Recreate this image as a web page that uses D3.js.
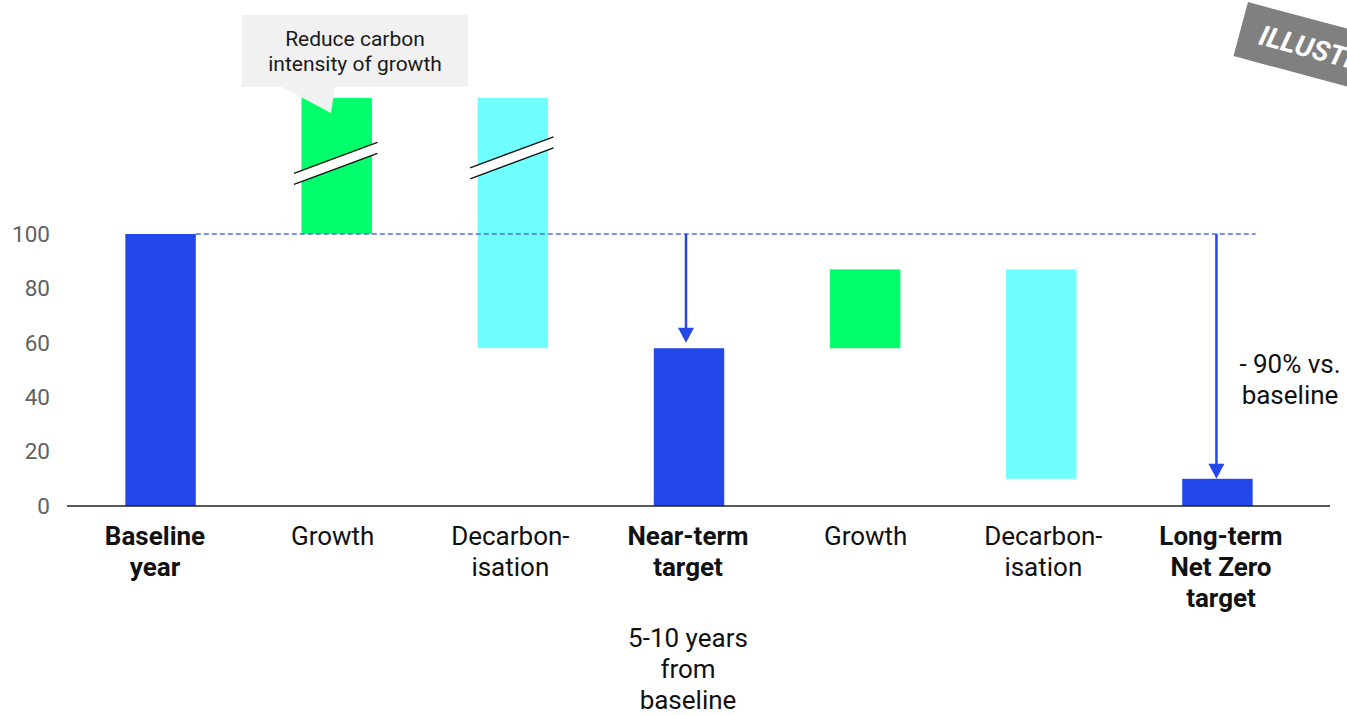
<!DOCTYPE html>
<html>
<head>
<meta charset="utf-8">
<script src="https://cdn.jsdelivr.net/npm/d3@7"></script>
<style>
  html, body { margin: 0; padding: 0; background: #ffffff; }
  svg { display: block; font-family: Roboto, "Noto Sans", sans-serif; }
</style>
</head>
<body>
<svg id="chart" width="1347" height="715"></svg>
<script>
// Emissions pathway: baseline -> near-term target -> long-term Net Zero target
const categories = ["Baseline year", "Growth", "Decarbonisation", "Near-term target",
                    "Growth", "Decarbonisation", "Long-term Net Zero target"];
const categoryLines = [["Baseline", "year"], ["Growth"], ["Decarbon-", "isation"],
                       ["Near-term", "target"], ["Growth"], ["Decarbon-", "isation"],
                       ["Long-term", "Net Zero", "target"]];
const barStart = [0, 100, 58, 0, 58, 10, 0];
const barEnd   = [100, 150, 150, 58, 87, 87, 10];
const barKind  = ["total", "increase", "decrease", "total", "increase", "decrease", "total"];
const yTicks   = [0, 20, 40, 60, 80, 100];
const baselineValue = 100;
const nearTermArrowEnd = 60;
const longTermValue = 10;
const brokenBars = [1, 2];

const svg = d3.select("#chart");

const x = d3.scaleBand()
  .domain(d3.range(categories.length))
  .range([72.5, 1305.5])
  .paddingInner(0.6)
  .paddingOuter(0.3);

// category text sits on its own, slightly wider grid
const xLabel = d3.scalePoint()
  .domain(d3.range(categories.length))
  .range([155, 1221]);

const y = d3.scaleLinear().domain([0, 150]).range([506, 98]);

const colour = { total: "#2347EB", increase: "#00FF6A", decrease: "#70FFFF" };
const blue = "#2347EB";

// y axis labels (no domain line, no tick marks)
const yAxis = svg.append("g")
  .attr("transform", "translate(67,0)")
  .call(d3.axisLeft(y).tickValues(yTicks).tickSize(0).tickPadding(17));
yAxis.select(".domain").remove();
yAxis.selectAll("text")
  .attr("font-family", "Roboto, sans-serif")
  .attr("font-size", "22.5px")
  .attr("fill", "#616161");

// bars
svg.append("g").selectAll("rect")
  .data(categories.map((c, i) => i))
  .join("rect")
  .attr("x", i => x(i))
  .attr("width", x.bandwidth())
  .attr("y", i => y(Math.max(barStart[i], barEnd[i])))
  .attr("height", i => Math.abs(y(barStart[i]) - y(barEnd[i])))
  .attr("fill", i => colour[barKind[i]]);

// axis break marks on the tall bars
const breakMid = { 1: 126, 2: 128 };
brokenBars.forEach(i => {
  const x0 = x(i) - 7.5, x1 = x(i) + x.bandwidth() + 5.5;
  const yc = y(breakMid[i]);
  const rise = 15.5, gap = 5.5;
  const g = svg.append("g");
  g.append("polygon")
    .attr("points", [[x0, yc + rise - gap], [x1, yc - rise - gap], [x1, yc - rise + gap], [x0, yc + rise + gap]].join(" "))
    .attr("fill", "#ffffff");
  [-gap, gap].forEach(o => {
    g.append("line")
      .attr("x1", x0).attr("y1", yc + rise + o)
      .attr("x2", x1).attr("y2", yc - rise + o)
      .attr("stroke", "#111").attr("stroke-width", 1.3);
  });
});

// baseline reference line
svg.append("line")
  .attr("x1", x(0) + x.bandwidth()).attr("x2", x(6) + x.bandwidth() + 3)
  .attr("y1", y(baselineValue)).attr("y2", y(baselineValue))
  .attr("stroke", "#4D6EF0").attr("stroke-width", 1.5)
  .attr("stroke-dasharray", "5,3");

// x axis line
svg.append("line")
  .attr("x1", 67).attr("x2", 1330)
  .attr("y1", y(0)).attr("y2", y(0))
  .attr("stroke", "#222").attr("stroke-width", 1.6);

// reduction arrows
function arrow(cx, fromV, toV) {
  const tipY = y(toV);
  svg.append("line")
    .attr("x1", cx).attr("x2", cx)
    .attr("y1", y(fromV)).attr("y2", tipY - 10)
    .attr("stroke", blue).attr("stroke-width", 2.5);
  svg.append("polygon")
    .attr("points", [[cx - 8, tipY - 15], [cx + 8, tipY - 15], [cx, tipY]].join(" "))
    .attr("fill", blue);
}
arrow(x(3) + x.bandwidth() / 2 - 3, baselineValue, nearTermArrowEnd);
arrow(x(6) + x.bandwidth() / 2 - 1, baselineValue, longTermValue);

// category labels
const labels = svg.append("g")
  .attr("font-family", "Roboto, sans-serif")
  .attr("font-size", "26px")
  .attr("fill", "#111")
  .attr("text-anchor", "middle");
categoryLines.forEach((lines, i) => {
  const t = labels.append("text")
    .attr("font-weight", barKind[i] === "total" ? 700 : 400);
  lines.forEach((ln, k) => {
    t.append("tspan")
      .attr("x", xLabel(i))
      .attr("y", 545 + k * 31.2)
      .text(ln);
  });
});

// time horizon note under the near-term target
const note = labels.append("text");
["5-10 years", "from", "baseline"].forEach((ln, k) => {
  note.append("tspan")
    .attr("x", xLabel(3))
    .attr("y", 646.5 + k * 31)
    .text(ln);
});

// reduction annotation
const red = svg.append("text")
  .attr("font-family", "Roboto, sans-serif")
  .attr("font-size", "26px")
  .attr("fill", "#111")
  .attr("text-anchor", "middle");
["- 90% vs.", "baseline"].forEach((ln, k) => {
  red.append("tspan").attr("x", 1290).attr("y", 373 + k * 31).text(ln);
});

// callout bubble
const callout = svg.append("g");
callout.append("rect")
  .attr("x", 242).attr("y", 15).attr("width", 226).attr("height", 72)
  .attr("fill", "#F1F1F1");
callout.append("polygon")
  .attr("points", "280,86 335,86 331,113")
  .attr("fill", "#F1F1F1");
const ct = callout.append("text")
  .attr("font-family", "Roboto, sans-serif")
  .attr("font-size", "21px")
  .attr("fill", "#1a1a1a")
  .attr("text-anchor", "middle");
["Reduce carbon", "intensity of growth"].forEach((ln, k) => {
  ct.append("tspan").attr("x", 355).attr("y", 45.5 + k * 25).text(ln);
});

// "ILLUSTRATIVE" stamp
const stamp = svg.append("g").attr("transform", "translate(1248,2) rotate(15)");
stamp.append("rect")
  .attr("x", 0).attr("y", 0).attr("width", 280).attr("height", 56)
  .attr("fill", "#808080");
stamp.append("text")
  .attr("x", 20).attr("y", 38)
  .attr("font-family", "Roboto, sans-serif")
  .attr("font-size", "28px")
  .attr("font-weight", 700)
  .attr("font-style", "italic")
  .attr("fill", "#ffffff")
  .text("ILLUSTRATIVE");
</script>
</body>
</html>
